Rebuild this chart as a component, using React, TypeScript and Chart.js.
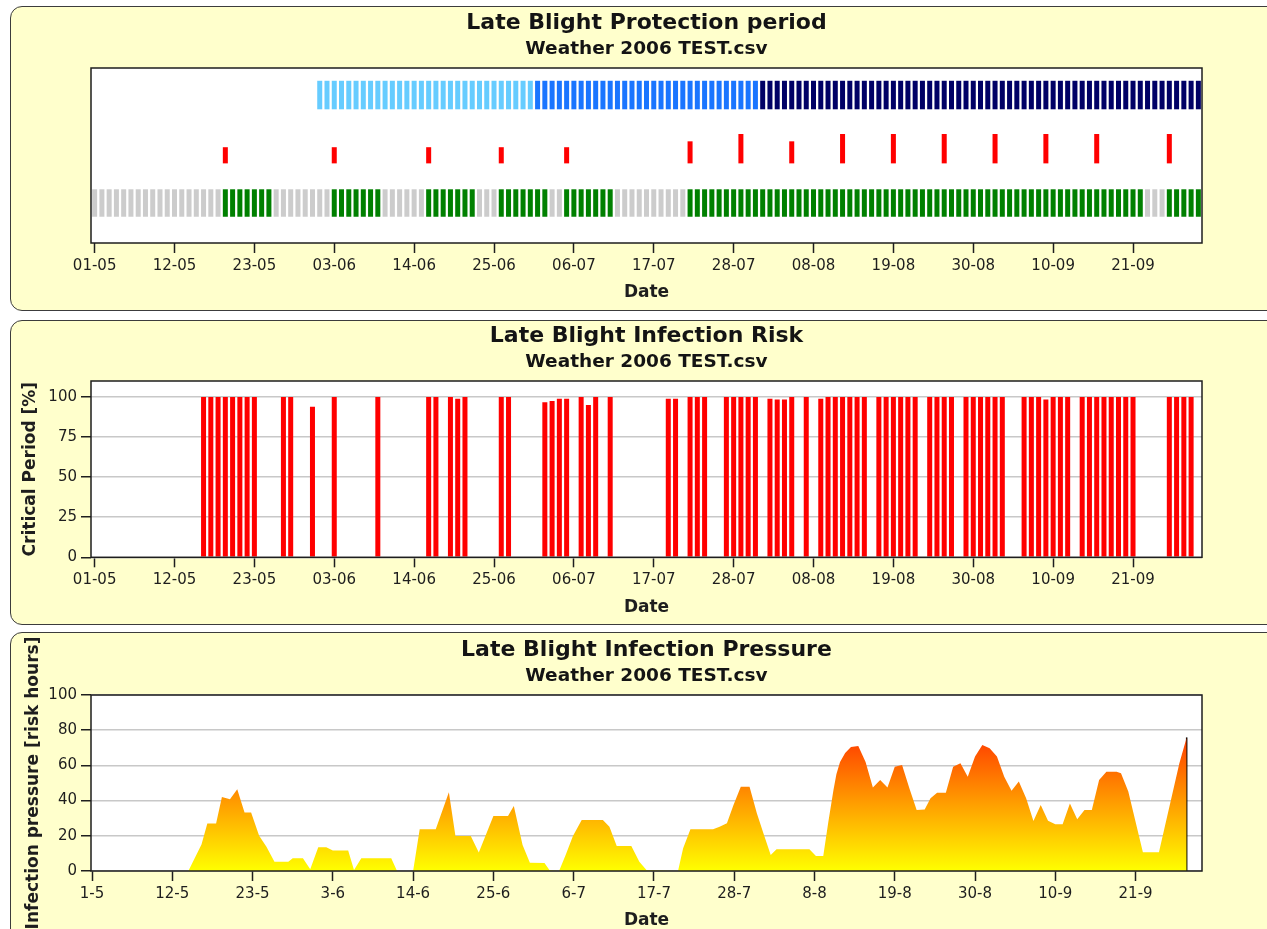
import React, { useEffect, useRef } from 'react';
import { Chart, registerables } from 'chart.js';

Chart.register(...registerables);
const FONT = '"DejaVu Sans", Verdana, sans-serif';
Chart.defaults.font.family = FONT;
Chart.defaults.color = '#1e1e1e';

// ---------- shared date axis (day index counted from 1 May 2006) ----------
const dateTickDays = [0, 11, 22, 33, 44, 55, 66, 77, 88, 99, 110, 121, 132, 143];
const dateTickLabels = ['01-05', '12-05', '23-05', '03-06', '14-06', '25-06', '06-07', '17-07', '28-07', '08-08', '19-08', '30-08', '10-09', '21-09'];
const dateTickLabelsShort = ['1-5', '12-5', '23-5', '3-6', '14-6', '25-6', '6-7', '17-7', '28-7', '8-8', '19-8', '30-8', '10-9', '21-9'];

// ---------- panel 1: protection period ----------
// [first day, last day, class]
const cropStageSegments: [number, number, string][] = [
  [31, 60, 'early'],
  [61, 91, 'mid'],
  [92, 152, 'late'],
];
const protectionSegments: [number, number, string][] = [
  [0, 17, 'off'], [18, 24, 'on'], [25, 32, 'off'], [33, 39, 'on'], [40, 45, 'off'],
  [46, 52, 'on'], [53, 55, 'off'], [56, 62, 'on'], [63, 64, 'off'], [65, 71, 'on'],
  [72, 81, 'off'], [82, 144, 'on'], [145, 147, 'off'], [148, 152, 'on'],
];
const sprayDays = [18, 33, 46, 56, 65, 82, 89, 96, 103, 110, 117, 124, 131, 138, 148];
const sprayDoses = [0.55, 0.55, 0.55, 0.55, 0.55, 0.75, 1, 0.75, 1, 1, 1, 1, 1, 1, 1];

// ---------- panel 2: infection risk ----------
const riskDays = [
  15, 16, 17, 18, 19, 20, 21, 22,
  26, 27, 30, 33, 39,
  46, 47, 49, 50, 51, 56, 57,
  62, 63, 64, 65, 67, 68, 69, 71,
  79, 80, 82, 83, 84, 87, 88, 89, 90, 91,
  93, 94, 95, 96, 98, 100, 101, 102,
  103, 104, 105, 106, 108, 109, 110, 111, 112, 113,
  115, 116, 117, 118, 120, 121, 122, 123, 124, 125,
  128, 129, 130, 131, 132, 133, 134,
  136, 137, 138, 139, 140, 141, 142, 143,
  148, 149, 150, 151,
];
const riskValues = [
  100, 100, 100, 100, 100, 100, 100, 100,
  100, 100, 94, 100, 100,
  100, 100, 100, 99, 100, 100, 100,
  96.7, 97.5, 99, 99, 100, 95, 100, 100,
  99, 99, 100, 100, 100, 100, 100, 100, 100, 100,
  99, 98.5, 98.5, 100, 100, 99, 100, 100,
  100, 100, 100, 100, 100, 100, 100, 100, 100, 100,
  100, 100, 100, 100, 100, 100, 100, 100, 100, 100,
  100, 100, 100, 98.4, 100, 100, 100,
  100, 100, 100, 100, 100, 100, 100, 100,
  100, 100, 100, 100,
];
const riskTicks = [0, 25, 50, 75, 100];

// ---------- panel 3: infection pressure ----------
const pressureDays = [
  0, 13.2, 15.0, 15.8, 17.0, 17.8, 18.9, 19.9, 20.9, 21.8, 22.9, 23.9, 25.0, 26.9, 27.5, 28.9, 29.9,
  31.0, 32.1, 33.0, 35.1, 35.9, 36.9, 41.0, 41.8, 44.0, 44.9, 47.1, 48.9, 49.8, 51.9, 53.0, 55.0,
  57.0, 57.8, 59.0, 60.0, 62.0, 62.7, 64.0, 64.9, 65.9, 67.1, 70.0, 70.9, 71.9, 73.9, 75.0, 76.0,
  80.3, 81.0, 82.0, 85.1, 86.0, 87.0, 87.9, 88.9, 90.1, 91.1, 92.0, 93.0, 93.8, 98.3, 99.2, 100.2,
  100.9, 101.6, 102.0, 102.5, 103.2, 104.0, 105.0, 106.0, 107.0, 108.0, 109.0, 110.0, 111.0, 112.0,
  113.0, 114.1, 114.9, 115.8, 117.0, 118.0, 119.0, 120.0, 121.0, 122.0, 123.0, 124.0, 125.0, 126.0,
  127.0, 128.0, 129.0, 130.0, 131.0, 132.0, 133.0, 134.0, 135.0, 136.0, 137.0, 138.0, 139.0, 140.4,
  141.0, 142.0, 144.0, 146.2, 147.0, 149.0, 150.0,
];
const pressureValues = [
  0, 0, 15, 27, 27, 42, 40.7, 46.4, 33.2, 33.2, 20, 13.8, 5.3, 5.3, 7.2, 7.2, 1,
  13.5, 13.5, 11.6, 11.6, 0.5, 7.2, 7.2, 0, 0, 23.7, 23.7, 44.7, 19.9, 19.9, 10.5, 31.3,
  31.3, 36.9, 14.8, 4.7, 4.5, 0.4, 0, 9.1, 19.9, 29, 29, 25.2, 14.2, 14.2, 5.3, 0.4,
  0, 12.9, 23.7, 23.7, 25.2, 27.1, 37.5, 47.9, 47.9, 32.8, 21.4, 9.1, 12.3, 12.3, 8.5, 8.5,
  28, 46, 55, 62, 67, 70.5, 71, 62, 47.5, 51.7, 47.5, 59.3, 60.2, 47,
  34.7, 35, 41.3, 44.5, 44.5, 59.3, 61.2, 53.6, 65, 71.6, 69.7, 65, 53.6, 45.6,
  50.8, 41.3, 28.4, 37.5, 28.6, 26.5, 26.5, 38.4, 29.4, 34.7, 34.7, 51.7, 56.4, 56.4,
  55.5, 45.1, 10.6, 10.6, 25.2, 61.2, 75.9,
];
const pressureTicks = [0, 20, 40, 60, 80, 100];

// ---------- styles ----------
const TOP_ROW: [number, number] = [76.4, 92.7];
const BOTTOM_ROW: [number, number] = [15.0, 30.7];
const MARK_BASE = 45.5;
const MARK_FULL = 16.8;
const AXIS_COLOR = '#1e1e1e';
const GRID_COLOR = '#c8c8c8';

function expandDays(segs: [number, number, string][], key: string): number[] {
  const out: number[] = [];
  segs.forEach(([a, b, k]) => {
    if (k !== key) return;
    for (let d = a; d <= b; d++) out.push(d);
  });
  return out;
}

function panelPlugin(title: string, subtitle: string) {
  return {
    id: 'panelDeco',
    beforeDraw(chart: any) {
      const { ctx, chartArea: a } = chart;
      ctx.save();
      ctx.fillStyle = '#ffffff';
      ctx.fillRect(a.left, a.top, a.right - a.left, a.bottom - a.top);
      ctx.restore();
    },
    afterDatasetsDraw(chart: any) {
      const { ctx, chartArea: a } = chart;
      ctx.save();
      ctx.strokeStyle = AXIS_COLOR;
      ctx.lineWidth = 1.5;
      ctx.strokeRect(a.left, a.top, a.right - a.left, a.bottom - a.top);
      ctx.fillStyle = '#141414';
      ctx.textAlign = 'center';
      ctx.textBaseline = 'middle';
      const cx = (a.left + a.right) / 2;
      ctx.font = `bold 22px ${FONT}`;
      ctx.fillText(title, cx, a.top - 45);
      ctx.font = `bold 18.5px ${FONT}`;
      ctx.fillText(subtitle, cx, a.top - 19);
      ctx.restore();
    },
  };
}

function dateAxis(min: number, max: number, labels: string[]) {
  return {
    type: 'linear',
    min,
    max,
    offset: false,
    afterBuildTicks: (s: any) => {
      s.ticks = dateTickDays.map((v) => ({ value: v }));
    },
    afterFit: (s: any) => {
      s.height = 60;
    },
    grid: {
      offset: false,
      drawOnChartArea: false,
      drawTicks: true,
      tickLength: 10,
      tickColor: AXIS_COLOR,
      tickWidth: 1.5,
    },
    border: { display: false },
    ticks: {
      autoSkip: false,
      maxRotation: 0,
      minRotation: 0,
      padding: 4,
      color: AXIS_COLOR,
      font: { size: 15 },
      callback: (_v: any, i: number) => labels[i],
    },
    title: {
      display: true,
      text: 'Date',
      color: AXIS_COLOR,
      font: { size: 17, weight: 'bold' },
      padding: { top: 0, bottom: 0 },
    },
  };
}

function valueAxis(min: number, max: number, ticks: number[], title: string, titlePad: number) {
  return {
    min,
    max,
    afterBuildTicks: (s: any) => {
      s.ticks = ticks.map((v) => ({ value: v }));
    },
    afterFit: (s: any) => {
      s.width = 91;
    },
    grid: {
      color: GRID_COLOR,
      lineWidth: 1.5,
      drawTicks: true,
      tickLength: 10,
      tickColor: AXIS_COLOR,
      tickWidth: 1.5,
    },
    border: { display: false },
    ticks: { padding: 4, color: AXIS_COLOR, font: { size: 15 } },
    title: {
      display: true,
      text: title,
      color: AXIS_COLOR,
      font: { size: 17, weight: 'bold' },
      padding: { top: titlePad, bottom: 0 },
    },
  };
}

const commonOpts = {
  animation: false,
  responsive: false,
  events: [],
  plugins: { legend: { display: false }, tooltip: { enabled: false } },
};

const barStyle = { grouped: false, categoryPercentage: 1, barPercentage: 0.69, borderWidth: 0 };

function makeProtection() {
  const row = (days: number[], range: [number, number], color: string) => ({
    ...barStyle,
    data: days.map((d) => ({ x: d, y: range })),
    backgroundColor: color,
  });
  return {
    type: 'bar',
    data: {
      datasets: [
        row(expandDays(cropStageSegments, 'early'), TOP_ROW, '#66ccff'),
        row(expandDays(cropStageSegments, 'mid'), TOP_ROW, '#1a75ff'),
        row(expandDays(cropStageSegments, 'late'), TOP_ROW, '#000066'),
        row(expandDays(protectionSegments, 'off'), BOTTOM_ROW, '#cccccc'),
        row(expandDays(protectionSegments, 'on'), BOTTOM_ROW, '#008000'),
        {
          ...barStyle,
          data: sprayDays.map((d, i) => ({ x: d, y: [MARK_BASE, MARK_BASE + sprayDoses[i] * MARK_FULL] })),
          backgroundColor: '#ff0000',
        },
      ],
    },
    options: {
      ...commonOpts,
      layout: { padding: { left: 91, right: 65, top: 68, bottom: 9 } },
      scales: {
        x: dateAxis(-0.5, 152.5, dateTickLabels),
        y: { display: false, min: 0, max: 100 },
      },
    },
    plugins: [panelPlugin('Late Blight Protection period', 'Weather 2006 TEST.csv')],
  };
}

function makeRisk() {
  return {
    type: 'bar',
    data: {
      datasets: [
        {
          ...barStyle,
          data: riskDays.map((d, i) => ({ x: d, y: riskValues[i] })),
          backgroundColor: '#ff0000',
        },
      ],
    },
    options: {
      ...commonOpts,
      layout: { padding: { left: 0, right: 65, top: 69, bottom: 10.7 } },
      scales: {
        x: dateAxis(-0.5, 152.5, dateTickLabels),
        y: valueAxis(0, 110, riskTicks, 'Critical Period [%]', 20),
      },
    },
    plugins: [panelPlugin('Late Blight Infection Risk', 'Weather 2006 TEST.csv')],
  };
}

function makePressure() {
  const last = pressureDays.length - 1;
  return {
    type: 'line',
    data: {
      datasets: [
        {
          data: pressureDays.map((d, i) => ({ x: d, y: pressureValues[i] })),
          fill: 'origin',
          borderWidth: 0,
          borderColor: 'rgba(0,0,0,0)',
          pointRadius: 0,
          tension: 0,
          backgroundColor: (ctx: any) => {
            const chart = ctx.chart;
            const { chartArea, scales } = chart;
            if (!chartArea || !scales.y) return '#ffd000';
            const y0 = scales.y.getPixelForValue(0);
            const y1 = scales.y.getPixelForValue(75);
            const g = chart.ctx.createLinearGradient(0, y0, 0, y1);
            g.addColorStop(0, '#ffff00');
            g.addColorStop(0.5, '#ffa000');
            g.addColorStop(1, '#ff4000');
            return g;
          },
        },
        {
          data: [
            { x: pressureDays[last], y: 0 },
            { x: pressureDays[last], y: pressureValues[last] },
          ],
          fill: false,
          borderColor: '#000000',
          borderWidth: 1.5,
          pointRadius: 0,
        },
      ],
    },
    options: {
      ...commonOpts,
      layout: { padding: { left: 0, right: 65, top: 67, bottom: 17 } },
      scales: {
        x: dateAxis(-0.14, 152.1, dateTickLabelsShort),
        y: valueAxis(0, 100, pressureTicks, 'Infection pressure [risk hours]', 23),
      },
    },
    plugins: [panelPlugin('Late Blight Infection Pressure', 'Weather 2006 TEST.csv')],
  };
}

function ChartCanvas({ top, height, make }: { top: number; height: number; make: () => any }) {
  const ref = useRef<HTMLCanvasElement | null>(null);
  useEffect(() => {
    const chart = new Chart(ref.current as HTMLCanvasElement, make());
    return () => chart.destroy();
  }, []);
  return (
    <canvas
      ref={ref}
      width={1267}
      height={height}
      style={{ position: 'absolute', left: 0, top, width: 1267, height, display: 'block' }}
    />
  );
}

function panelStyle(top: number, height: number): React.CSSProperties {
  return {
    position: 'absolute',
    left: 10,
    top,
    width: 1300,
    height,
    background: '#ffffcc',
    border: '1px solid #3c3c3c',
    borderRadius: 12,
    boxSizing: 'border-box',
  };
}

export default function App() {
  return (
    <div
      style={{
        position: 'absolute',
        left: 0,
        top: 0,
        width: 1267,
        height: 929,
        overflow: 'hidden',
        background: '#ffffff',
      }}
    >
      <div style={panelStyle(6, 305)} />
      <div style={panelStyle(320, 305)} />
      <div style={panelStyle(632, 320)} />
      <ChartCanvas top={0} height={312} make={makeProtection} />
      <ChartCanvas top={312} height={316} make={makeRisk} />
      <ChartCanvas top={628} height={320} make={makePressure} />
    </div>
  );
}
